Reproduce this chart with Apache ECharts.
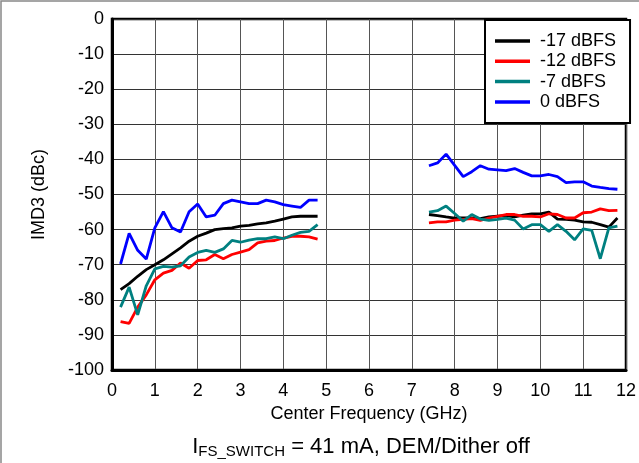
<!DOCTYPE html>
<html>
<head>
<meta charset="utf-8">
<script src="https://cdn.jsdelivr.net/npm/echarts@6/dist/echarts.min.js"></script>
<style>
  html, body { margin: 0; padding: 0; background: #fff; }
  #chart { width: 639px; height: 463px; }
</style>
</head>
<body>
<div id="chart"></div>
<script>
// frequencies (GHz), two measured bands
var freqLow = [0.2, 0.4, 0.6, 0.8, 1.0, 1.2, 1.4, 1.6, 1.8, 2.0, 2.2, 2.4, 2.6, 2.8, 3.0, 3.2, 3.4, 3.6, 3.8, 4.0, 4.2, 4.4, 4.6, 4.8];
var freqHigh = [7.4, 7.6, 7.8, 8.0, 8.2, 8.4, 8.6, 8.8, 9.0, 9.2, 9.4, 9.6, 9.8, 10.0, 10.2, 10.4, 10.6, 10.8, 11.0, 11.2, 11.4, 11.6, 11.8];

// IMD3 (dBc)
var m17Low = [-77.1, -75.4, -73.3, -71.4, -70, -68.6, -66.9, -65.2, -63.3, -61.9, -61, -60, -59.7, -59.5, -59, -58.8, -58.4, -58.1, -57.6, -57, -56.4, -56.2, -56.2, -56.2];
var m12Low = [-86.2, -86.7, -82.1, -78.6, -74.3, -72.4, -71.6, -69.5, -71, -68.8, -68.6, -67.1, -68.3, -67.1, -66.4, -65.7, -63.8, -63.3, -63.1, -62.4, -61.9, -61.9, -62.1, -62.7];
var m7Low = [-82.1, -76.4, -84.3, -76, -71.2, -70.5, -70.7, -70.3, -67.8, -66.5, -65.9, -66.5, -65.5, -63.1, -63.6, -63, -62.6, -62.6, -62.1, -62.6, -61.6, -60.8, -60.5, -58.6];
var zeroLow = [-69.8, -61.1, -65.9, -68.4, -59.5, -54.9, -59.5, -60.7, -54.9, -52.7, -56.4, -55.9, -52.6, -51.6, -52.1, -52.6, -52.6, -51.6, -52.1, -52.9, -53.3, -53.7, -51.6, -51.6];

var m17High = [-55.7, -56, -56.4, -56.7, -56.7, -56.7, -56.9, -56.4, -56.2, -56, -56.4, -55.9, -55.5, -55.5, -55, -57, -57.1, -57.3, -57.8, -57.9, -58.6, -59.3, -56.7];
var m12High = [-58.1, -57.8, -57.8, -57.3, -57.1, -56.9, -57.4, -56.7, -56.2, -55.7, -55.7, -56.2, -56.2, -56.4, -55.5, -55.7, -56.7, -56.7, -55.2, -55, -54.1, -54.6, -54.5];
var m7High = [-55, -54.6, -53.3, -55.4, -57.6, -55.7, -57, -57.4, -57.1, -56.7, -57.3, -59.8, -58.6, -58.6, -60.5, -58.6, -60.5, -62.9, -59.8, -60.2, -68.3, -59.5, -59];
var zeroHigh = [-41.8, -41, -38.5, -41.7, -44.9, -43.5, -41.8, -42.8, -43, -43.2, -42.6, -43.7, -44.7, -44.7, -44.3, -44.9, -46.6, -46.4, -46.4, -47.6, -48, -48.3, -48.5];

var seriesNames = ['-17 dBFS', '-12 dBFS', '-7 dBFS', '0 dBFS'];
var seriesColors = ['#000000', '#ff0000', '#008080', '#0000ff'];
var lowSets = [m17Low, m12Low, m7Low, zeroLow];
var highSets = [m17High, m12High, m7High, zeroHigh];

var xTicks = [0, 1, 2, 3, 4, 5, 6, 7, 8, 9, 10, 11, 12];
var yTicks = [0, -10, -20, -30, -40, -50, -60, -70, -80, -90, -100];

var FONT = 'Liberation Sans, Arial, sans-serif';

function pairs(xs, ys) {
  var out = [];
  for (var i = 0; i < xs.length; i++) {
    out.push([xs[i], ys[i]]);
  }
  return out;
}

// each level is drawn as two pieces (low band / high band), same name so legend shows it once
var series = [];
for (var k = 0; k < seriesNames.length; k++) {
  [pairs(freqLow, lowSets[k]), pairs(freqHigh, highSets[k])].forEach(function (d) {
    series.push({
      name: seriesNames[k],
      type: 'line',
      data: d,
      showSymbol: false,
      symbol: 'none',
      color: seriesColors[k],
      lineStyle: { width: 2.8, color: seriesColors[k] },
      animation: false
    });
  });
}

var chart = echarts.init(document.getElementById('chart'), null, { renderer: 'canvas' });

var option = {
  backgroundColor: '#ffffff',
  animation: false,
  grid: {
    left: 112,
    right: 9,
    top: 19,
    bottom: 93,
    show: true,
    borderColor: '#000',
    borderWidth: 2.5
  },
  legend: {
    orient: 'vertical',
    left: 485,
    top: 20,
    data: seriesNames,
    itemWidth: 35,
    itemHeight: 18,
    itemGap: 2.3,
    padding: [12, 14, 12, 10],
    backgroundColor: '#fff',
    borderColor: '#000',
    borderWidth: 2,
    icon: 'path://M0,0 L10,0 L10,1 L0,1 Z',
    textStyle: {
      fontFamily: FONT,
      fontSize: 18,
      color: '#000',
      lineHeight: 18,
      padding: [0, 0, 0, 5]
    }
  },
  xAxis: {
    type: 'value',
    min: xTicks[0],
    max: xTicks[xTicks.length - 1],
    interval: 1,
    name: 'Center Frequency (GHz)',
    nameLocation: 'middle',
    nameGap: 31,
    nameTextStyle: { fontFamily: FONT, fontSize: 18, color: '#000' },
    axisLine: { onZero: false, lineStyle: { color: '#000', width: 3 } },
    axisTick: { show: false },
    axisLabel: { fontFamily: FONT, fontSize: 18, color: '#000', margin: 12 },
    splitLine: { show: true, lineStyle: { color: '#555', width: 1 } }
  },
  yAxis: {
    type: 'value',
    min: yTicks[yTicks.length - 1],
    max: yTicks[0],
    interval: 10,
    name: 'IMD3 (dBc)',
    nameLocation: 'middle',
    nameGap: 64,
    nameTextStyle: { fontFamily: FONT, fontSize: 18, color: '#000' },
    axisLine: { show: true, onZero: false, lineStyle: { color: '#000', width: 3 } },
    axisTick: { show: false },
    axisLabel: { fontFamily: FONT, fontSize: 18, color: '#000', margin: 8 },
    splitLine: { show: true, lineStyle: { color: '#333', width: 1 } }
  },
  graphic: [
    {
      type: 'rect',
      silent: true,
      shape: { x: 1, y: 1, width: 700, height: 700 },
      style: { fill: 'none', stroke: '#888', lineWidth: 1.5 }
    },
    {
      type: 'text',
      silent: true,
      x: 361,
      y: 447,
      style: {
        text: '{main|I}{sub|FS_SWITCH}{main| = 41 mA, DEM/Dither off}',
        textAlign: 'center',
        textVerticalAlign: 'middle',
        fill: '#000',
        rich: {
          main: { fontFamily: FONT, fontSize: 22, lineHeight: 24, verticalAlign: 'middle' },
          sub: { fontFamily: FONT, fontSize: 15, lineHeight: 12, verticalAlign: 'bottom' }
        }
      }
    }
  ],
  series: series
};

chart.setOption(option);
</script>
</body>
</html>
